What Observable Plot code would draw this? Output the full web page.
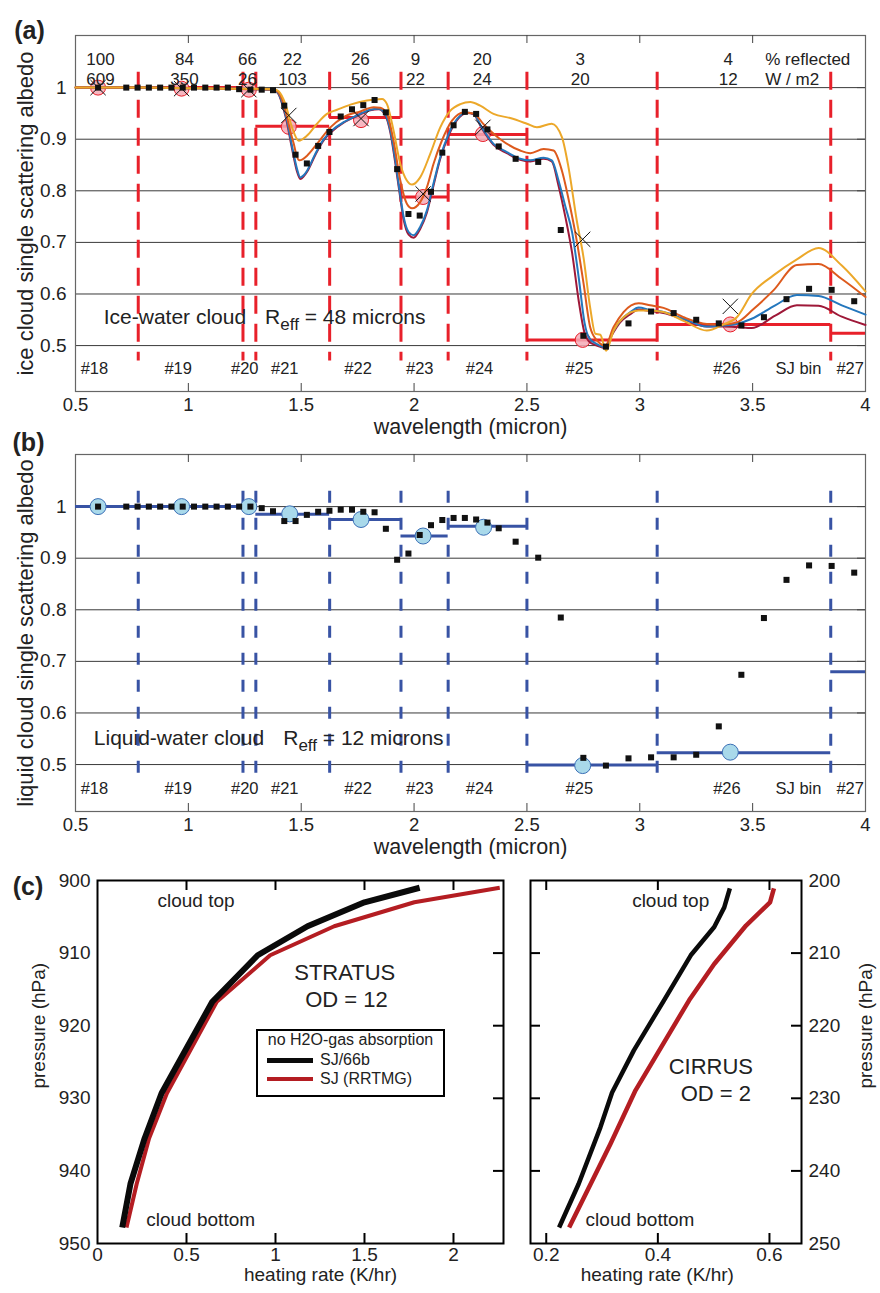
<!DOCTYPE html>
<html><head><meta charset="utf-8">
<script src="https://cdn.jsdelivr.net/npm/d3@7"></script>
<script src="https://cdn.jsdelivr.net/npm/@observablehq/plot@0.6"></script>
<style>
body{margin:0;background:#fff;}
#root{position:relative;width:880px;height:1293px;font-family:"Liberation Sans",Arial,Helvetica,sans-serif;color:#222;}
#legend{position:absolute;left:256px;top:1029px;width:189px;height:68px;border:2px solid #000;box-sizing:border-box;background:#fff;font-size:16px;}
#legend div{position:absolute;white-space:nowrap;}
</style></head><body><div id="root"></div>
<script>
// ---------------- data ----------------
const bandEdges = [0.778, 1.242, 1.299, 1.626, 1.942, 2.151, 2.5, 3.077, 3.846];
const stepLo = [0.5, 0.778, 1.242, 1.299, 1.626, 1.942, 2.151, 2.5, 3.077, 3.846];
const stepHi = [0.778, 1.242, 1.299, 1.626, 1.942, 2.151, 2.5, 3.077, 3.846, 4.0];
const iceStep = [1.0, 1.0, 0.996, 0.925, 0.942, 0.788, 0.909, 0.511, 0.541, 0.524];
const liqStep = [1.0, 1.0, 1.0, 0.985, 0.975, 0.943, 0.962, 0.499, 0.523, 0.68];

const bandLabels = ["#18","#19","#20","#21","#22","#23","#24","#25","#26","SJ bin","#27"];
const bandLabelX = [0.584, 0.955, 1.25, 1.427, 1.752, 2.025, 2.29, 2.732, 3.386, 3.703, 3.932];

const topX = [0.611, 0.983, 1.262, 1.461, 1.762, 2.006, 2.302, 2.736, 3.392];
const topPct = ["100","84","66","22","26","9","20","3","4"];
const topFlux = ["609","350","26","103","56","22","24","20","12"];
const unitPct = "% reflected";
const unitFlux = "W / m2";
const unitX = 3.556;

const sjWl = [0.6, 0.725, 0.775, 0.825, 0.875, 0.925, 0.975, 1.025, 1.075, 1.125, 1.175, 1.225, 1.275, 1.325, 1.375,
  1.425, 1.475, 1.525, 1.575, 1.625, 1.675, 1.725, 1.775, 1.825, 1.875, 1.925, 1.975, 2.025, 2.075, 2.125, 2.175, 2.225, 2.275, 2.325, 2.375,
  2.45, 2.55, 2.65, 2.75, 2.85, 2.95, 3.05, 3.15, 3.25, 3.35, 3.45, 3.55, 3.65, 3.75, 3.85, 3.95];
const iceSq = [1.0, 1.0,1.0,1.0,1.0,1.0,1.0,1.0,1.0,1.0,1.0, 0.997,0.996,0.996,0.995,
  0.965,0.870,0.853,0.887,0.914,0.944,0.958,0.966,0.976,0.952, 0.842,0.755,0.752,0.798,0.874,0.927,0.953,0.949,0.919,0.886,
  0.862,0.856,0.724,0.519,0.498,0.543,0.566,0.563,0.550,0.543,0.539,0.555,0.590,0.610,0.608,0.586];
const liqSq = [1.0, 1.0,1.0,1.0,1.0,1.0,1.0,1.0,1.0,1.0,1.0, 1.0,1.0, 0.997,0.991,
  0.972,0.972,0.984,0.990,0.992,0.994,0.994,0.990,0.989,0.957, 0.897,0.909,0.945,0.964,0.974,0.978,0.978,0.975,0.969,0.958,
  0.932,0.901,0.785,0.513,0.498,0.512,0.514,0.514,0.519,0.574,0.674,0.784,0.858,0.886,0.885,0.872];

const iceCircX = [0.6, 0.97, 1.268, 1.445, 1.765, 2.04, 2.305, 2.747, 3.401];
const iceCircY = [1.0, 0.998, 0.996, 0.924, 0.937, 0.788, 0.91, 0.511, 0.541];
const iceCrossY = [1.0, 0.998, 0.996, 0.946, 0.94, 0.794, 0.923, 0.706, 0.576];
const liqCircX = [0.6, 0.97, 1.268, 1.449, 1.765, 2.04, 2.308, 2.747, 3.401];
const liqCircY = [1.0, 1.0, 1.0, 0.986, 0.975, 0.943, 0.96, 0.498, 0.524];

// ice-cloud spectral curves
const wlA = [0.5,0.8,1.0,1.2,1.3, 1.38,1.40,1.422,1.437,1.452, 1.467,1.481,1.496,1.511,1.526, 1.563,1.60,1.636,1.688,1.747,
  1.806,1.843,1.872,1.895,1.917, 1.936,1.954,1.976,1.998,2.027, 2.057,2.086,2.116,2.153,2.19, 2.234,2.264,2.30,2.352,2.411,
  2.47,2.515,2.574,2.61,2.64, 2.67,2.70,2.73,2.755,2.775, 2.81,2.847,2.876,2.913,2.958, 2.995,3.046,3.105,3.194,3.297,
  3.371,3.43,3.496,3.6,3.696, 3.792,3.895,4.0];
const blueVal = [1.0,1.0,0.999,0.998,0.997, 0.995,0.988,0.961,0.936,0.903, 0.87,0.843,0.826,0.83,0.839, 0.872,0.90,0.917,0.933,0.946,
  0.957,0.959,0.949,0.917,0.859, 0.80,0.749,0.72,0.714,0.73, 0.762,0.814,0.865,0.91,0.939, 0.952,0.949,0.923,0.891,0.875,
  0.862,0.859,0.864,0.859,0.82, 0.77,0.72,0.63,0.545,0.515, 0.503,0.497,0.523,0.548,0.565, 0.574,0.569,0.565,0.552,0.537,
  0.539,0.542,0.552,0.578,0.598, 0.596,0.578,0.56];
const darkVal = [1.0,1.0,0.999,0.998,0.997, 0.995,0.987,0.958,0.932,0.898, 0.865,0.838,0.823,0.828,0.837, 0.87,0.898,0.915,0.932,0.945,
  0.956,0.958,0.947,0.913,0.853, 0.795,0.744,0.715,0.709,0.726, 0.758,0.81,0.862,0.907,0.937, 0.951,0.948,0.921,0.889,0.873,
  0.86,0.857,0.862,0.857,0.81, 0.75,0.68,0.585,0.525,0.508, 0.50,0.495,0.52,0.545,0.561, 0.57,0.567,0.563,0.551,0.537,
  0.537,0.536,0.534,0.558,0.578, 0.577,0.556,0.54];
const wlO = [0.5,0.8,1.0,1.2,1.3, 1.38,1.40,1.422,1.437,1.452, 1.467,1.481,1.492,1.506,1.526, 1.57,1.629,1.688,1.762,1.821,
  1.85,1.88,1.909,1.939,1.968, 1.991,2.027,2.057,2.086,2.123, 2.168,2.22,2.264,2.308,2.382, 2.47,2.515,2.574,2.618,2.655,
  2.692,2.722,2.751,2.78,2.81, 2.847,2.884,2.928,2.995,3.046, 3.105,3.194,3.297,3.371,3.43, 3.504,3.592,3.696,3.792,3.895, 4.0];
const orangeVal = [1.0,1.0,0.999,0.998,0.997, 0.996,0.99,0.968,0.943,0.915, 0.891,0.866,0.859,0.861,0.868, 0.891,0.923,0.943,0.954,0.962,
  0.961,0.949,0.897,0.82,0.775, 0.766,0.778,0.807,0.852,0.897, 0.936,0.952,0.95,0.929,0.90, 0.878,0.873,0.881,0.878,0.839,
  0.768,0.70,0.62,0.536,0.51, 0.50,0.536,0.565,0.582,0.578, 0.573,0.555,0.542,0.541,0.545, 0.571,0.607,0.656,0.658,0.629, 0.594];
const wlY = [0.5,0.8,1.0,1.2,1.3, 1.38,1.40,1.43,1.459,1.489, 1.526,1.57,1.614,1.659,1.718, 1.791,1.858,1.88,1.909,1.939,
  1.968,1.991,2.027,2.072,2.116, 2.16,2.205,2.249,2.293,2.352, 2.426,2.5,2.544,2.61,2.655, 2.684,2.721,2.751,2.78,2.803,
  2.825,2.851,2.884,2.928,2.995, 3.046,3.105,3.194,3.297,3.371, 3.43,3.496,3.592,3.696,3.792, 3.895,4.0];
const yellowVal = [1.0,1.0,0.999,0.998,0.998, 0.997,0.993,0.968,0.923,0.897, 0.907,0.93,0.949,0.957,0.967, 0.975,0.978,0.968,0.917,0.852,
  0.82,0.812,0.826,0.872,0.923, 0.955,0.968,0.972,0.965,0.949, 0.941,0.93,0.923,0.93,0.904, 0.846,0.742,0.67,0.574,0.523,
  0.521,0.49,0.529,0.555,0.568, 0.568,0.565,0.548,0.529,0.541, 0.555,0.60,0.636,0.667,0.689, 0.655,0.605];

const xTickVals = [0.5, 1, 1.5, 2, 2.5, 3, 3.5, 4];
const xInnerTicks = [1, 1.5, 2, 2.5, 3, 3.5];
const gridY = [0.5, 0.6, 0.7, 0.8, 0.9, 1.0];

// heating-rate profiles
const stratusP = [901, 903, 906.3, 910.3, 916.7, 929.3, 935.5, 941.8, 947.8];
const stratusSJ66 = [1.81, 1.50, 1.18, 0.90, 0.645, 0.36, 0.265, 0.185, 0.139];
const stratusRRTMG = [2.26, 1.78, 1.33, 0.97, 0.67, 0.39, 0.29, 0.22, 0.163];
const cirrusPBlack = [201.1, 203.7, 206.4, 210.3, 216.5, 223.4, 229.2, 234.0, 241.8, 247.8];
const cirrusSJ66 = [0.529, 0.519, 0.501, 0.459, 0.411, 0.357, 0.318, 0.297, 0.258, 0.223];
const cirrusPRed = [201.1, 203.0, 206.2, 211.5, 216.5, 228.9, 236.3, 247.8];
const cirrusRRTMG = [0.608, 0.601, 0.558, 0.501, 0.456, 0.360, 0.315, 0.241];
const stratusXTicks = [0, 0.5, 1, 1.5, 2];
const stratusYTicks = [900, 910, 920, 930, 940, 950];
const cirrusXTicks = [0.2, 0.4, 0.6];
const cirrusYTicks = [200, 210, 220, 230, 240, 250];

// ---------------- drawing ----------------
const FONT = '"Liberation Sans", Arial, Helvetica, sans-serif';
const TXT = "#222";
const root = document.getElementById("root");
const zip = (xs, ys) => xs.map((x, i) => ({x, y: ys[i]}));
const fmt1 = d => (d === 1 ? "1" : String(d));

function place(svg, left, top) {
  svg.style.position = "absolute";
  svg.style.left = left + "px";
  svg.style.top = top + "px";
  root.appendChild(svg);
}
function subscriptify(svg) {
  const ns = "http://www.w3.org/2000/svg";
  svg.querySelectorAll("text").forEach(t => {
    const s = t.textContent;
    if (!s.includes("|")) return;
    const [a, b, c, d] = s.split("|");
    while (t.firstChild) t.removeChild(t.firstChild);
    const mk = (txt, attrs) => { const e = document.createElementNS(ns, "tspan"); e.textContent = txt; for (const k in attrs) e.setAttribute(k, attrs[k]); t.appendChild(e); };
    mk(a, {}); mk(b, {dx: 19}); mk(c, {dy: 6, "font-size": 17}); mk(" " + d, {dy: -6});
  });
}

function albedoPanel(cfg) {
  const W = 880, mL = 75, mR = 15;
  const pW = W - mL - mR, pH = cfg.H - cfg.mT - cfg.mB;
  const steps = stepLo.map((lo, i) => ({lo, hi: stepHi[i], v: cfg.steps[i]}));
  const marks = [
    Plot.ruleY(gridY, {y: d => d, stroke: "#3a3a3a", strokeWidth: 1}),
    Plot.frame({stroke: "#666", strokeWidth: 1.2}),
    Plot.tickX(xInnerTicks, {x: d => d, stroke: "#444", strokeWidth: 1, insetBottom: pH - 8}),
    Plot.tickX(xInnerTicks, {x: d => d, stroke: "#444", strokeWidth: 1, insetTop: pH - 8}),
    Plot.tickY(gridY, {y: d => d, stroke: "#444", strokeWidth: 1, insetLeft: pW - 8}),
    Plot.ruleX(bandEdges, {x: d => d, y1: 1.03, y2: 0.47, stroke: cfg.dash, strokeWidth: 3, strokeDasharray: cfg.dashArray}),
    Plot.ruleY(steps, {y: "v", x1: "lo", x2: "hi", stroke: cfg.dash, strokeWidth: 3}),
    Plot.dot(cfg.circles, {x: "x", y: "y", r: cfg.circR, fill: cfg.circFill, fillOpacity: cfg.circOpacity, stroke: cfg.circStroke, strokeWidth: 1})
  ];
  for (const c of cfg.curves) marks.push(Plot.line(c.data, {x: "x", y: "y", stroke: c.color, strokeWidth: 2, curve: "monotone-x"}));
  marks.push(Plot.dot(cfg.squares, {x: "x", y: "y", symbol: "square", r: 3.4, fill: "#111", stroke: "none"}));
  if (cfg.crosses) marks.push(Plot.dot(cfg.crosses, {x: "x", y: "y", symbol: "times", r: 7, fill: "none", stroke: "#111", strokeWidth: 1}));
  if (cfg.top) {
    marks.push(
      Plot.text(topX.map((x, i) => ({x, t: topPct[i]})), {x: "x", text: "t", frameAnchor: "top", dy: 17, fontSize: 17, fill: TXT}),
      Plot.text(topX.map((x, i) => ({x, t: topFlux[i]})), {x: "x", text: "t", frameAnchor: "top", dy: 37, fontSize: 17, fill: TXT}),
      Plot.text([{x: unitX, t: unitPct}], {x: "x", text: "t", frameAnchor: "top", dy: 17, fontSize: 17, textAnchor: "start", fill: TXT}),
      Plot.text([{x: unitX, t: unitFlux}], {x: "x", text: "t", frameAnchor: "top", dy: 37, fontSize: 17, textAnchor: "start", fill: TXT})
    );
  }
  marks.push(
    Plot.text(bandLabels.map((t, i) => ({x: bandLabelX[i], t})), {x: "x", text: "t", frameAnchor: "bottom", dy: -18, fontSize: 16.5, fill: TXT}),
    Plot.text([cfg.cloudText], {x: cfg.cloudX, y: cfg.cloudY, text: d => d, textAnchor: "start", fontSize: 21, fill: TXT}),
    Plot.text(gridY, {y: d => d, text: fmt1, frameAnchor: "left", dx: -9, textAnchor: "end", fontSize: 19, fill: TXT}),
    Plot.text(xTickVals, {x: d => d, text: d => String(d), frameAnchor: "bottom", dy: 19.5, fontSize: 18.5, fill: TXT}),
    Plot.text(["wavelength (micron)"], {text: d => d, frameAnchor: "bottom", dy: cfg.titleDy, fontSize: 21.5, fill: TXT}),
    Plot.text([cfg.yLabel], {text: d => d, frameAnchor: "left", dx: -50, rotate: -90, textAnchor: "middle", fontSize: 22, fill: TXT}),
    Plot.text([cfg.letter], {text: d => d, frameAnchor: "top-left", dx: cfg.letterDx, dy: cfg.letterDy, textAnchor: "middle", fontSize: 25, fontWeight: "bold", fill: TXT})
  );
  const svg = Plot.plot({
    width: W, height: cfg.H, marginLeft: mL, marginRight: mR, marginTop: cfg.mT, marginBottom: cfg.mB,
    x: {domain: [0.5, 4], axis: null},
    y: {domain: cfg.yDomain, axis: null},
    style: {background: "transparent", fontFamily: FONT, overflow: "visible"},
    marks
  });
  subscriptify(svg);
  return svg;
}

const sqIce = zip(sjWl, iceSq), sqLiq = zip(sjWl, liqSq);

place(albedoPanel({
  H: 445, mT: 35, mB: 54, yDomain: [0.411, 1.101], steps: iceStep,
  dash: "#e8202a", dashArray: "18,10",
  circles: zip(iceCircX, iceCircY), circR: 7.5, circFill: "#f5aab6", circOpacity: 0.85, circStroke: "#e8202a",
  curves: [
    {data: zip(wlA, darkVal), color: "#9e1838"},
    {data: zip(wlA, blueVal), color: "#2477bd"},
    {data: zip(wlO, orangeVal), color: "#dd5a1d"},
    {data: zip(wlY, yellowVal), color: "#eca82a"}
  ],
  squares: sqIce, crosses: zip(iceCircX, iceCrossY), top: true,
  cloudText: "Ice-water cloud|R|eff|= 48 microns", cloudX: 0.625, cloudY: 0.555,
  titleDy: 42, yLabel: "ice cloud single scattering albedo", letter: "(a)", letterDx: -46, letterDy: -14
}), 0, 0);

place(albedoPanel({
  H: 440, mT: 34, mB: 49, yDomain: [0.409, 1.101], steps: liqStep,
  dash: "#3853a4", dashArray: "12,15",
  circles: zip(liqCircX, liqCircY), circR: 8, circFill: "#a9d9ea", circOpacity: 1, circStroke: "#3b6fb6",
  curves: [], squares: sqLiq, crosses: null, top: false,
  cloudText: "Liquid-water cloud|R|eff|= 12 microns", cloudX: 0.581, cloudY: 0.55,
  titleDy: 42, yLabel: "liquid cloud single scattering albedo", letter: "(b)", letterDx: -47, letterDy: -21
}), 0, 420);

function heatPanel(cfg) {
  const pW = cfg.W - cfg.mL - cfg.mR, pH = 433 - 20 - 50;
  const marks = [
    Plot.line(zip(cfg.redX, cfg.redP), {x: "x", y: "y", stroke: "#b41d22", strokeWidth: cfg.redW, strokeLinecap: "butt"}),
    Plot.line(zip(cfg.blackX, cfg.blackP), {x: "x", y: "y", stroke: "#0a0a0a", strokeWidth: cfg.blackW, strokeLinecap: "butt"}),
    Plot.frame({stroke: "#000", strokeWidth: 2}),
    Plot.tickX(cfg.xInner, {x: d => d, stroke: "#000", strokeWidth: 2, insetBottom: pH - 10}),
    Plot.tickX(cfg.xInner, {x: d => d, stroke: "#000", strokeWidth: 2, insetTop: pH - 10}),
    Plot.tickY(cfg.yInner, {y: d => d, stroke: "#000", strokeWidth: 2, insetLeft: pW - 10})
  ];
  if (cfg.leftTicks) marks.push(Plot.tickY(cfg.yInner, {y: d => d, stroke: "#000", strokeWidth: 2, insetRight: pW - 10}));
  const startNotes = cfg.notes.filter(d => d.a === "start");
  const midNotes = cfg.notes.filter(d => d.a === "middle");
  marks.push(
    Plot.text(cfg.xTicks, {x: d => d, text: d => String(d), frameAnchor: "bottom", dy: 17, fontSize: 19, fill: TXT}),
    Plot.text(cfg.yTicks, {y: d => d, text: d => String(d), frameAnchor: cfg.yAnchor, dx: cfg.yAnchor === "left" ? -7 : 7,
      textAnchor: cfg.yAnchor === "left" ? "end" : "start", fontSize: 19, fill: TXT}),
    Plot.text(["heating rate (K/hr)"], {x: cfg.titleX, text: d => d, frameAnchor: "bottom", dy: 37, fontSize: 19, fill: TXT}),
    Plot.text(["pressure (hPa)"], {y: cfg.pLabelY, text: d => d, frameAnchor: cfg.yAnchor, dx: cfg.pLabelDx, rotate: -90, textAnchor: "middle", fontSize: 19, fill: TXT}),
    Plot.text(startNotes, {x: "x", y: "y", text: "t", textAnchor: "start", fontSize: "s", fill: TXT}),
    Plot.text(midNotes, {x: "x", y: "y", text: "t", textAnchor: "middle", fontSize: "s", fill: TXT})
  );
  if (cfg.letter) marks.push(Plot.text([cfg.letter], {text: d => d, frameAnchor: "top-left", dx: -69.5, dy: -3, textAnchor: "middle", fontSize: 25, fontWeight: "bold", fill: TXT}));
  return Plot.plot({
    width: cfg.W, height: 433, marginLeft: cfg.mL, marginRight: cfg.mR, marginTop: 20, marginBottom: 50,
    x: {domain: cfg.xDomain, axis: null},
    y: {domain: cfg.yDomain, axis: null},
    style: {background: "transparent", fontFamily: FONT, overflow: "visible"},
    marks
  });
}

const stratusNotes = [
  {x: 0.337, y: 902.75, t: "cloud top", a: "start", s: 19},
  {x: 1.389, y: 912.7, t: "STRATUS", a: "middle", s: 22},
  {x: 1.399, y: 916.4, t: "OD = 12", a: "middle", s: 22},
  {x: 0.274, y: 946.8, t: "cloud bottom", a: "start", s: 19}
];
const cirrusNotes = [
  {x: 0.423, y: 202.75, t: "cloud top", a: "middle", s: 19},
  {x: 0.495, y: 225.7, t: "CIRRUS", a: "middle", s: 22},
  {x: 0.504, y: 229.4, t: "OD = 2", a: "middle", s: 22},
  {x: 0.368, y: 246.8, t: "cloud bottom", a: "middle", s: 19}
];

place(heatPanel({
  W: 515, mL: 97, mR: 12, xDomain: [0, 2.281], yDomain: [950, 900],
  redX: stratusRRTMG, redP: stratusP, blackX: stratusSJ66, blackP: stratusP, redW: 4, blackW: 6,
  xInner: [0.5, 1, 1.5, 2], yInner: [910, 920, 930, 940], leftTicks: false,
  xTicks: stratusXTicks, yTicks: stratusYTicks, yAnchor: "left", titleX: 1.253, pLabelY: 920, pLabelDx: -59,
  notes: stratusNotes, letter: "(c)"
}), 0, 860);

place(heatPanel({
  W: 365, mL: 15, mR: 79, xDomain: [0.1718, 0.6574], yDomain: [250, 200],
  redX: cirrusRRTMG, redP: cirrusPRed, blackX: cirrusSJ66, blackP: cirrusPBlack, redW: 4.5, blackW: 4.5,
  xInner: [0.2, 0.4, 0.6], yInner: [210, 220, 230, 240], leftTicks: true,
  xTicks: cirrusXTicks, yTicks: cirrusYTicks, yAnchor: "right", titleX: 0.399, pLabelY: 220, pLabelDx: 64,
  notes: cirrusNotes, letter: null
}), 515, 860);

// legend (HTML overlay)
const legendItems = [{label: "SJ/66b", color: "#0a0a0a", w: 5}, {label: "SJ (RRTMG)", color: "#b41d22", w: 4}];
const lg = document.createElement("div");
lg.id = "legend";
const head = document.createElement("div");
head.textContent = "no H2O-gas absorption";
Object.assign(head.style, {left: "0", right: "0", top: "0px", height: "18px", lineHeight: "18px", textAlign: "center"});
lg.appendChild(head);
legendItems.forEach((it, i) => {
  const cy = 29 + i * 19.3;
  const sw = document.createElement("div");
  Object.assign(sw.style, {left: "8.7px", top: (cy - it.w / 2) + "px", width: "46.6px", height: it.w + "px", background: it.color});
  lg.appendChild(sw);
  const tx = document.createElement("div");
  tx.textContent = it.label;
  Object.assign(tx.style, {left: "62px", top: (cy - 9) + "px", height: "18px", lineHeight: "18px"});
  lg.appendChild(tx);
});
root.appendChild(lg);
</script></body></html>
